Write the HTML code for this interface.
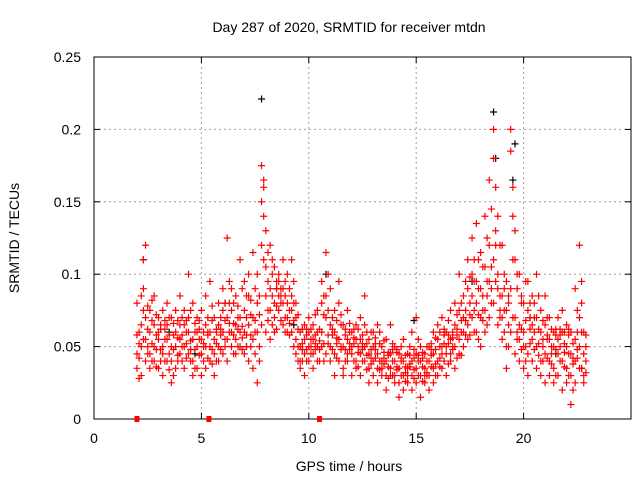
<!DOCTYPE html>
<html><head><meta charset="utf-8"><style>
body{margin:0;background:#fff;width:640px;height:480px;overflow:hidden}
text{font-family:"Liberation Sans",sans-serif;font-size:14px;fill:#000}
</style></head><body>
<svg id="chart" width="640" height="480" xmlns="http://www.w3.org/2000/svg">
<rect width="640" height="480" fill="#fff"/>
<g id="grid"></g>
<g id="pts"></g>
<g id="axes"></g>
<text x="349" y="32" text-anchor="middle">Day 287 of 2020, SRMTID for receiver mtdn</text>
<text x="349" y="471" text-anchor="middle">GPS time / hours</text>
<text transform="translate(19,238) rotate(-90)" text-anchor="middle">SRMTID / TECUs</text>
</svg>
<script>
const xTicks=[0,5,10,15,20];
const yTicks=[0,0.05,0.1,0.15,0.2,0.25];
const yTickLabels=["0","0.05","0.1","0.15","0.2","0.25"];
const times=[2.0,2.2,2.4,2.6,2.8,3.0,3.2,3.4,3.6,3.8,4.0,4.2,4.4,4.6,4.8,5.0,5.2,5.4,5.6,5.8,6.0,6.2,6.4,6.6,6.8,7.0,7.2,7.4,7.6,7.8,8.0,8.2,8.4,8.6,8.8,9.0,9.2,9.4,9.6,9.8,10.0,10.2,10.4,10.6,10.8,11.0,11.2,11.4,11.6,11.8,12.0,12.2,12.4,12.6,12.8,13.0,13.2,13.4,13.6,13.8,14.0,14.2,14.4,14.6,14.8,15.0,15.2,15.4,15.6,15.8,16.0,16.2,16.4,16.6,16.8,17.0,17.2,17.4,17.6,17.8,18.0,18.2,18.4,18.6,18.8,19.0,19.2,19.4,19.6,19.8,20.0,20.2,20.4,20.6,20.8,21.0,21.2,21.4,21.6,21.8,22.0,22.2,22.4,22.6,22.8];
const valsA=[.035,.030,.040,.045,.050,.035,.045,.055,.040,.050,.045,.035,.060,.040,.050,.045,.035,.040,.030,.050,.045,.055,.060,.065,.050,.060,.040,.035,.025,.065,.060,.055,.070,.085,.065,.070,.060,.045,.035,.045,.040,.035,.050,.080,.070,.050,.045,.080,.035,.045,.030,.035,.045,.050,.035,.030,.025,.035,.020,.030,.025,.015,.030,.025,.020,.025,.015,.025,.030,.035,.040,.035,.030,.045,.050,.055,.060,.065,.070,.060,.050,.075,.070,.080,.065,.055,.050,.060,.045,.040,.035,.045,.055,.050,.040,.045,.055,.035,.030,.040,.035,.010,.040,.035,.030];
const valsB=[.058,.065,.120,.075,.085,.070,.075,.080,.070,.060,.085,.065,.100,.080,.070,.075,.065,.095,.055,.080,.075,.125,.090,.085,.110,.095,.085,.070,.080,.150,.105,.090,.105,.095,.080,.100,.085,.070,.060,.065,.060,.055,.075,.095,.115,.090,.060,.095,.065,.075,.060,.055,.070,.065,.055,.060,.045,.050,.040,.045,.040,.035,.055,.035,.040,.045,.030,.035,.050,.060,.055,.050,.060,.075,.065,.100,.085,.090,.100,.095,.115,.140,.120,.200,.100,.085,.095,.185,.130,.065,.060,.075,.085,.100,.075,.085,.070,.060,.055,.075,.050,.045,.090,.120,.060];
const valsC=[.080,.085,.070,.060,.065,.055,.050,.040,.050,.075,.055,.075,.045,.055,.060,.055,.085,.060,.070,.040,.060,.070,.050,.055,.070,.075,.065,.115,.100,.175,.130,.120,.080,.075,.110,.080,.075,.055,.050,.055,.050,.065,.060,.060,.085,.065,.030,.055,.050,.055,.045,.065,.030,.040,.045,.040,.035,.030,.055,.035,.050,.045,.040,.045,.060,.035,.040,.045,.040,.045,.030,.070,.045,.055,.080,.075,.070,.110,.125,.135,.090,.105,.165,.180,.140,.120,.075,.200,.110,.100,.080,.095,.065,.070,.060,.065,.040,.050,.045,.060,.065,.060,.055,.070,.045];
const valsD=[.045,.050,.055,.035,.040,.060,.030,.065,.025,.035,.065,.050,.070,.030,.035,.030,.050,.050,.045,.065,.090,.040,.075,.045,.060,.045,.100,.055,.060,.120,.085,.075,.060,.100,.090,.060,.110,.080,.040,.030,.070,.045,.040,.050,.045,.040,.075,.040,.030,.040,.050,.040,.055,.085,.025,.050,.065,.040,.030,.065,.030,.025,.020,.030,.030,.070,.050,.030,.020,.025,.065,.045,.050,.040,.035,.045,.050,.055,.085,.080,.070,.060,.095,.110,.090,.070,.035,.090,.070,.055,.050,.030,.040,.035,.030,.025,.030,.025,.070,.020,.025,.030,.025,.050,.025];
const times2=[2.1,2.3,2.5,2.7,2.9,3.1,3.3,3.5,3.7,3.9,4.1,4.3,4.5,4.7,4.9,5.1,5.3,5.5,5.7,5.9,6.1,6.3,6.5,6.7,6.9,7.1,7.3,7.5,7.7,7.9,8.1,8.3,8.5,8.7,8.9,9.1,9.3,9.5,9.7,9.9,10.1,10.3,10.5,10.7,10.9,11.1,11.3,11.5,11.7,11.9,12.1,12.3,12.5,12.7,12.9,13.1,13.3,13.5,13.7,13.9,14.1,14.3,14.5,14.7,14.9,15.1,15.3,15.5,15.7,15.9,16.1,16.3,16.5,16.7,16.9,17.1,17.3,17.5,17.7,17.9,18.1,18.3,18.5,18.7,18.9,19.1,19.3,19.5,19.7,19.9,20.1,20.3,20.5,20.7,20.9,21.1,21.3,21.5,21.7,21.9,22.1,22.3,22.5,22.7,22.9];
const valsE=[.042,.110,.062,.052,.058,.048,.062,.045,.066,.044,.058,.052,.048,.066,.044,.052,.042,.068,.062,.058,.068,.080,.066,.078,.064,.070,.058,.090,.072,.160,.095,.100,.090,.085,.095,.075,.068,.062,.052,.058,.055,.048,.062,.072,.100,.058,.052,.065,.058,.048,.052,.046,.058,.044,.048,.042,.052,.038,.044,.040,.036,.042,.032,.038,.034,.040,.036,.032,.044,.048,.050,.058,.052,.060,.058,.068,.075,.080,.095,.090,.085,.095,.105,.160,.085,.075,.065,.160,.090,.080,.068,.070,.060,.062,.055,.058,.050,.048,.040,.052,.045,.038,.060,.095,.040];
const valsF=[.060,.090,.050,.068,.072,.062,.040,.070,.058,.068,.040,.060,.075,.048,.062,.040,.058,.078,.040,.070,.050,.095,.080,.070,.090,.085,.072,.068,.085,.165,.075,.110,.095,.090,.085,.090,.095,.050,.062,.048,.045,.072,.048,.085,.075,.062,.068,.072,.048,.060,.040,.062,.052,.060,.042,.052,.040,.046,.036,.052,.048,.040,.044,.050,.042,.055,.042,.040,.036,.056,.042,.062,.068,.050,.072,.080,.095,.098,.110,.110,.105,.125,.145,.120,.120,.100,.080,.140,.100,.085,.095,.062,.080,.085,.068,.070,.062,.058,.062,.060,.058,.052,.075,.080,.058];
const valsG=[.028,.075,.078,.040,.048,.065,.068,.058,.030,.056,.070,.042,.054,.060,.068,.060,.070,.048,.052,.048,.080,.060,.045,.062,.048,.058,.082,.045,.050,.140,.115,.065,.078,.068,.070,.058,.080,.072,.040,.040,.062,.052,.040,.052,.058,.048,.042,.048,.040,.052,.062,.036,.040,.052,.060,.048,.060,.042,.028,.030,.046,.030,.026,.036,.028,.030,.046,.050,.048,.038,.060,.040,.038,.048,.062,.060,.058,.072,.060,.072,.068,.085,.080,.095,.070,.060,.050,.070,.055,.048,.050,.052,.048,.044,.050,.042,.038,.062,.050,.046,.062,.042,.048,.035,.032];
const valsH=[.052,.055,.045,.082,.036,.040,.055,.034,.048,.040,.050,.068,.040,.035,.055,.050,.060,.038,.060,.062,.055,.066,.058,.050,.056,.050,.050,.060,.040,.110,.068,.085,.062,.080,.060,.066,.050,.040,.048,.062,.050,.058,.054,.040,.052,.070,.056,.050,.062,.066,.056,.050,.048,.034,.038,.056,.034,.054,.046,.048,.034,.050,.036,.044,.048,.044,.026,.030,.052,.030,.036,.052,.058,.056,.042,.044,.068,.058,.075,.055,.075,.065,.090,.130,.075,.090,.085,.110,.060,.062,.040,.080,.070,.052,.040,.055,.045,.030,.058,.036,.030,.020,.042,.060,.050];
const blackTimes=[2.3,3.5,4.7,6.1,7.1,7.8,8.5,9.3,10.8,12.5,13.9,14.9,16.3,17.6,18.6,18.7,19.5,19.6,20.3,21.5,22.7];
const blackVals=[.110,.060,.045,.080,.050,.221,.090,.065,.100,.050,.030,.068,.060,.095,.212,.180,.165,.190,.070,.045,.035];
const gapTimes=[2.0,5.35,10.5];

const X0=94,X1=631,Y0=419,Y1=57;
const sx=t=>X0+t*(X1-X0)/25;
const sy=v=>Y0-v*(Y0-Y1)/0.25;
const NS="http://www.w3.org/2000/svg";
function mk(tag,parent,attrs){const e=document.createElementNS(NS,tag);for(const k in attrs)e.setAttribute(k,attrs[k]);parent.appendChild(e);return e;}
const grid=document.getElementById('grid'),axes=document.getElementById('axes'),pts=document.getElementById('pts');
xTicks.forEach(t=>{
  if(t>0){const g=mk('line',grid,{x1:sx(t),x2:sx(t),y1:Y1,y2:Y0,stroke:'#a0a0a0','stroke-dasharray':'2,3'});
  
  }
  const l=mk('text',axes,{x:sx(t),y:Y0+24,'text-anchor':'middle'});l.textContent=t;
  
  
  mk('line',axes,{x1:sx(t),x2:sx(t),y1:Y0,y2:Y0-6,stroke:'#000'});
  mk('line',axes,{x1:sx(t),x2:sx(t),y1:Y1,y2:Y1+6,stroke:'#000'});
});
yTicks.forEach((v,i)=>{
  if(i>0&&i<yTicks.length-1){const g=mk('line',grid,{x1:X0,x2:X1,y1:sy(v),y2:sy(v),stroke:'#a0a0a0','stroke-dasharray':'2,3'});
  
  }
  const l=mk('text',axes,{x:X0-13,y:sy(v)+5,'text-anchor':'end'});l.textContent=yTickLabels[i];
  
  
  mk('line',axes,{x1:X0,x2:X0+6,y1:sy(v),y2:sy(v),stroke:'#000'});
  mk('line',axes,{x1:X1,x2:X1-6,y1:sy(v),y2:sy(v),stroke:'#000'});
});
const frame=mk('rect',axes,{x:X0,y:Y1,width:X1-X0,height:Y0-Y1,fill:'none',stroke:'#000'});


function plus(t,v,col){
  const x=sx(t),y=sy(v);
  const p=mk('path',pts,{d:`M${x-3.5} ${y}H${x+3.5}M${x} ${y-3.5}V${y+3.5}`,stroke:col,'stroke-width':1.2,fill:'none'});
  
  
}
blackTimes.forEach((t,i)=>plus(t,blackVals[i],'#000'));
[valsA,valsB,valsC,valsD].forEach(arr=>times.forEach((t,i)=>plus(t,arr[i],'#f00')));
[valsE,valsF,valsG,valsH].forEach(arr=>times2.forEach((t,i)=>plus(t,arr[i],'#f00')));
gapTimes.forEach(t=>{
  const r=mk('rect',axes,{x:sx(t)-2.5,y:Y0-3,width:5,height:6,fill:'#f00'});
  
  
});
</script>
</body></html>
